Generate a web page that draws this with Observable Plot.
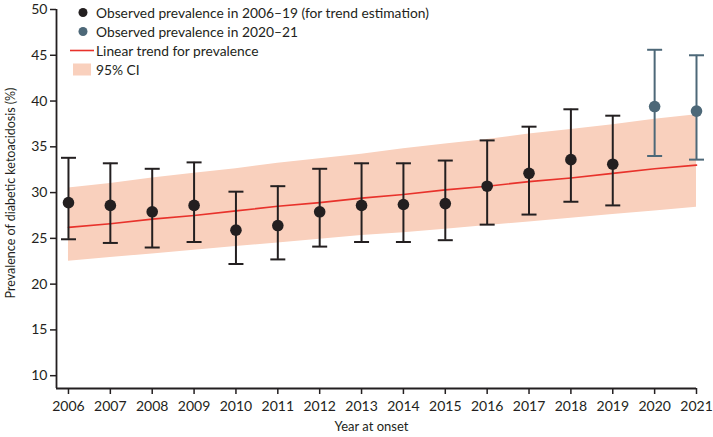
<!DOCTYPE html>
<html>
<head>
<meta charset="utf-8">
<script src="https://cdn.jsdelivr.net/npm/d3@7"></script>
<script src="https://cdn.jsdelivr.net/npm/@observablehq/plot@0.6"></script>
<style>
  html, body { margin: 0; padding: 0; background: #fff; }
  #wrap { position: relative; width: 713px; height: 437px; font-family: Lato, "Open Sans", sans-serif; color: #231f20; }
  #chart svg { overflow: visible; }
  #legend { position: absolute; left: 68px; top: 3px; font-size: 13.8px; line-height: 19px; }
  #legend .row { display: flex; align-items: center; height: 19px; }
  #legend svg { width: 28px; height: 19px; flex: none; }
</style>
</head>
<body>
<div id="wrap">
  <div id="chart"></div>
  <div id="legend"></div>
</div>
<script>
// ---- data ----
const years = [2006, 2007, 2008, 2009, 2010, 2011, 2012, 2013, 2014, 2015, 2016, 2017, 2018, 2019, 2020, 2021];
const prevalence = [28.9, 28.6, 27.9, 28.6, 25.9, 26.4, 27.9, 28.6, 28.7, 28.8, 30.7, 32.1, 33.6, 33.1, 39.4, 38.9];
const ciLow  = [24.9, 24.5, 24.0, 24.6, 22.2, 22.7, 24.1, 24.6, 24.6, 24.8, 26.5, 27.6, 29.0, 28.6, 34.0, 33.6];
const ciHigh = [33.8, 33.2, 32.6, 33.3, 30.1, 30.7, 32.6, 33.2, 33.2, 33.5, 35.7, 37.2, 39.1, 38.4, 45.6, 45.0];
const period = ["2006–19", "2006–19", "2006–19", "2006–19", "2006–19", "2006–19", "2006–19", "2006–19", "2006–19", "2006–19", "2006–19", "2006–19", "2006–19", "2006–19", "2020–21", "2020–21"];
const trend     = [26.2, 26.6, 27.1, 27.5, 28.0, 28.5, 28.9, 29.4, 29.8, 30.3, 30.7, 31.2, 31.6, 32.1, 32.6, 33.0];
const trendLow  = [22.5, 22.9, 23.3, 23.7, 24.1, 24.5, 24.9, 25.3, 25.6, 26.0, 26.4, 26.8, 27.2, 27.6, 28.0, 28.4];
const trendHigh = [30.5, 31.0, 31.6, 32.1, 32.6, 33.2, 33.7, 34.2, 34.8, 35.3, 35.8, 36.4, 36.9, 37.4, 38.0, 38.5];
const yTicks = [10, 15, 20, 25, 30, 35, 40, 45, 50];
const legendLabels = [
  "Observed prevalence in 2006–19 (for trend estimation)",
  "Observed prevalence in 2020–21",
  "Linear trend for prevalence",
  "95% CI"
];

// ---- styles ----
const ink = "#231f20";
const colors = {"2006–19": "#231f20", "2020–21": "#4d6878"};
const bandColor = "#f9d0bd";
const lineColor = "#e8322b";

const obs = years.map((y, i) => ({year: y, v: prevalence[i], lo: ciLow[i], hi: ciHigh[i], period: period[i]}));
const fit = years.map((y, i) => ({year: y, v: trend[i], lo: trendLow[i], hi: trendHigh[i]}));

// horizontal cap symbol
const capSymbol = {
  draw(ctx, size) {
    const r = Math.sqrt(size / Math.PI);
    ctx.moveTo(-r, 0);
    ctx.lineTo(r, 0);
  }
};

const xMin = 2005.714, yMin = 8.6;

const chart = Plot.plot({
  width: 713,
  height: 437,
  marginLeft: 56,
  marginRight: 17,
  marginTop: 9,
  marginBottom: 49,
  style: {fontFamily: "Lato, 'Open Sans', sans-serif", fontSize: "14px", color: ink, background: "#fff", overflow: "visible"},
  x: {domain: [xMin, 2021], label: null},
  y: {domain: [yMin, 50], label: null},
  marks: [
    Plot.areaY(fit, {x: "year", y1: "lo", y2: "hi", fill: bandColor}),
    Plot.lineY(fit, {x: "year", y: "v", stroke: lineColor, strokeWidth: 1.6}),
    Plot.ruleX(obs, {x: "year", y1: "lo", y2: "hi", stroke: d => colors[d.period], strokeWidth: 2}),
    Plot.dot(obs, {x: "year", y: "lo", symbol: capSymbol, r: 7.5, stroke: d => colors[d.period], strokeWidth: 2, fill: "none"}),
    Plot.dot(obs, {x: "year", y: "hi", symbol: capSymbol, r: 7.5, stroke: d => colors[d.period], strokeWidth: 2, fill: "none"}),
    Plot.dot(obs, {x: "year", y: "v", r: 5.8, fill: d => colors[d.period], stroke: "none"}),
    Plot.ruleX([xMin], {stroke: ink, strokeWidth: 1.8}),
    Plot.ruleY([yMin], {stroke: ink, strokeWidth: 1.8}),
    Plot.axisX({ticks: years, tickFormat: d => String(d), tickSize: 6, tickPadding: 7, stroke: ink, strokeWidth: 1.5, label: null}),
    Plot.axisY({ticks: yTicks, tickSize: 6, tickPadding: 3, stroke: ink, strokeWidth: 1.5, label: null}),
    Plot.text(["Year at onset"], {frameAnchor: "bottom", dx: -5, dy: 42, fill: ink, fontSize: 13}),
    Plot.text(["Prevalence of diabetic ketoacidosis (%)"], {frameAnchor: "left", textAnchor: "middle", dx: -46, dy: -6, rotate: -90, fill: ink, fontSize: 12.5})
  ]
});
document.getElementById("chart").appendChild(chart);

// ---- legend ----
const legend = document.getElementById("legend");
const swatches = [
  `<circle cx="15" cy="9.5" r="4.5" fill="${colors["2006–19"]}"/>`,
  `<circle cx="15" cy="9.5" r="4.5" fill="${colors["2020–21"]}"/>`,
  `<line x1="2" x2="26" y1="9.5" y2="9.5" stroke="${lineColor}" stroke-width="1.6"/>`,
  `<rect x="5" y="3.5" width="18" height="12" fill="${bandColor}"/>`
];
legendLabels.forEach((label, i) => {
  const row = document.createElement("div");
  row.className = "row";
  row.innerHTML = `<svg viewBox="0 0 28 19">${swatches[i]}</svg><span>${label}</span>`;
  legend.appendChild(row);
});
</script>
</body>
</html>
